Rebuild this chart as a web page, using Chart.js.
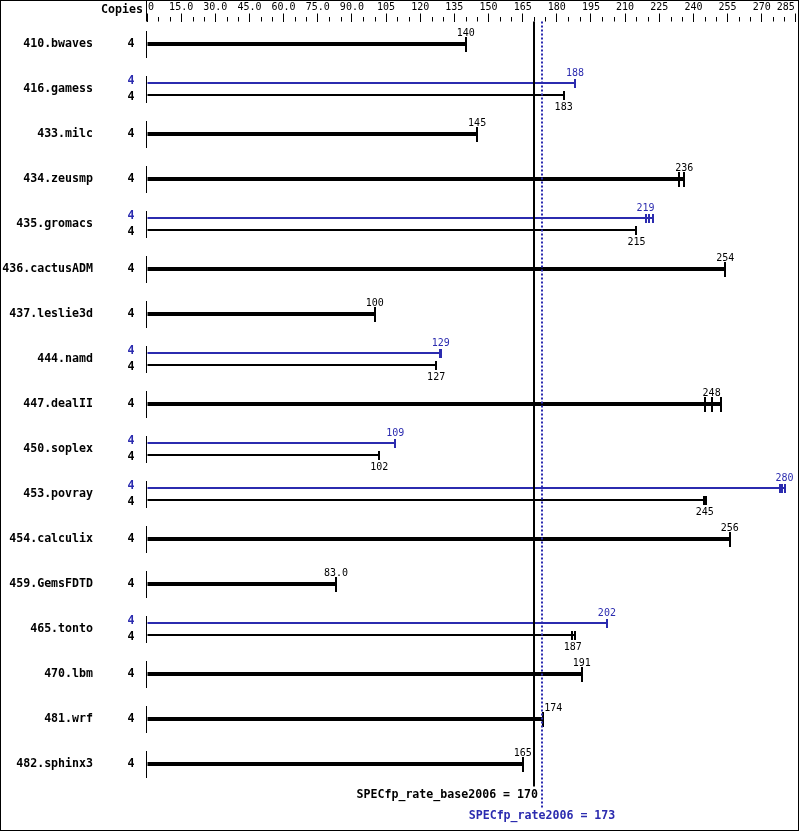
<!DOCTYPE html>
<html>
<head>
<meta charset="utf-8">
<script src="https://cdn.jsdelivr.net/npm/chart.js@4/dist/chart.umd.min.js"></script>
<style>
  html, body { margin: 0; padding: 0; background: #fff; }
  canvas { display: block; }
</style>
</head>
<body>
<canvas id="chart" width="799" height="831"></canvas>
<script>
// benchmarks, top to bottom
const benchmarks = ['410.bwaves', '416.gamess', '433.milc', '434.zeusmp', '435.gromacs', '436.cactusADM',
  '437.leslie3d', '444.namd', '447.dealII', '450.soplex', '453.povray', '454.calculix',
  '459.GemsFDTD', '465.tonto', '470.lbm', '481.wrf', '482.sphinx3'];
const copies = [4, 4, 4, 4, 4, 4, 4, 4, 4, 4, 4, 4, 4, 4, 4, 4, 4];

// base ratio (median run)
const baseValues = [140, 183, 145, 236, 215, 254, 100, 127, 248, 102, 245, 256, 83.0, 187, 191, 174, 165];
// peak ratio, null where no peak result is shown
const peakValues = [null, 188, null, null, 219, null, null, 129, null, 109, 280, null, null, 202, null, null, null];

// single run results (end ticks)
const baseRuns = [[140], [183], [145], [233.7, 236], [215], [254], [100], [127], [245.2, 248, 252], [102],
  [244.8, 245.5], [256], [83], [186.7, 188.2], [191], [174], [165]];
const peakRuns = [null, [188], null, null, [219, 220.5, 222.3], null, null, [128.8, 129.3], null, [109],
  [278, 279, 280.2], null, null, [202], null, null, null];

// top axis
const xTicks = [0, 15, 30, 45, 60, 75, 90, 105, 120, 135, 150, 165, 180, 195, 210, 225, 240, 255, 270, 285];
const xTickLabels = ['0', '15.0', '30.0', '45.0', '60.0', '75.0', '90.0', '105', '120', '135', '150', '165',
  '180', '195', '210', '225', '240', '255', '270', '285'];

const baseScore = 170;
const peakScore = 173;

const BLUE = '#2b2baf';
const BLACK = '#000';
const MONO = '"DejaVu Sans Mono", monospace';

const hasPeak = peakValues.map(v => v !== null);

function fmt(v) {
  return v < 100 ? v.toFixed(1) : String(Math.round(v));
}

/**
 * 端点刻度、数值、份数和总分线
 */
const specPlugin = {
  id: 'specDecor',
  afterDatasetsDraw(chart) {
    const { ctx, chartArea } = chart;
    const x = chart.scales.x;
    const x0 = Math.round(x.getPixelForValue(0));
    const basePx = Math.round(x.getPixelForValue(baseScore));
    const peakPx = Math.round(x.getPixelForValue(peakScore));
    const peakMeta = chart.getDatasetMeta(0);
    const baseMeta = chart.getDatasetMeta(1);
    const singleMeta = chart.getDatasetMeta(2);

    ctx.save();

    // 外框
    ctx.strokeStyle = BLACK;
    ctx.lineWidth = 1;
    ctx.strokeRect(0.5, 0.5, 798, 830);

    // 表头
    ctx.fillStyle = BLACK;
    ctx.font = 'bold 11.6px ' + MONO;
    ctx.textAlign = 'right';
    ctx.textBaseline = 'middle';
    ctx.fillText('Copies', 143, 10);

    // 顶部刻度文字
    ctx.font = '10px ' + MONO;
    xTicks.forEach((v, i) => {
      const px = x.getPixelForValue(v);
      if (i === 0) {
        ctx.textAlign = 'left';
        ctx.fillText(xTickLabels[i], px + 1, 7);
      } else if (i === xTicks.length - 1) {
        ctx.textAlign = 'right';
        ctx.fillText(xTickLabels[i], px - 1, 7);
      } else {
        ctx.textAlign = 'center';
        ctx.fillText(xTickLabels[i], px, 7);
      }
    });

    // 小刻度
    ctx.beginPath();
    for (let v = 5; v <= x.max; v += 5) {
      if (v % 15 === 0) continue;
      const px = Math.round(x.getPixelForValue(v)) + 0.5;
      ctx.moveTo(px, 17);
      ctx.lineTo(px, chartArea.top);
    }
    // 左侧竖线（表头部分）
    ctx.moveTo(x0 - 0.5, 0);
    ctx.lineTo(x0 - 0.5, chartArea.top);
    ctx.stroke();

    benchmarks.forEach((name, i) => {
      const rowY = chart.scales.y.getPixelForValue(i);

      // 每行起点竖线
      ctx.fillStyle = BLACK;
      ctx.fillRect(x0 - 1, Math.round(rowY - 13), 1, 27);

      const bars = [];
      if (hasPeak[i]) {
        bars.push({ y: peakMeta.data[i].y, v: peakValues[i], runs: peakRuns[i], color: BLUE, t: 2, h: 4, kind: 'peak' });
        bars.push({ y: baseMeta.data[i].y, v: baseValues[i], runs: baseRuns[i], color: BLACK, t: 2, h: 4, kind: 'base' });
      } else {
        bars.push({ y: singleMeta.data[i].y, v: baseValues[i], runs: baseRuns[i], color: BLACK, t: 4, h: 7, kind: 'single' });
      }

      bars.forEach(b => {
        const vPx = x.getPixelForValue(b.v);
        const maxRun = Math.max(...b.runs);
        ctx.fillStyle = b.color;
        if (maxRun > b.v) {
          const mPx = x.getPixelForValue(maxRun);
          ctx.fillRect(vPx, b.y - b.t / 2, mPx - vPx, b.t);
        }
        b.runs.forEach(r => {
          const rPx = Math.round(x.getPixelForValue(r));
          ctx.fillRect(rPx - 1, Math.round(b.y - b.h), 2, Math.round(2 * b.h) + 1);
        });

        // 份数
        ctx.font = 'bold 11.6px ' + MONO;
        ctx.textAlign = 'center';
        ctx.textBaseline = 'middle';
        const cy = b.kind === 'peak' ? b.y - 2 : (b.kind === 'base' ? b.y + 2 : b.y);
        ctx.fillText(String(copies[i]), 131, cy);

        // 数值
        ctx.font = '10px ' + MONO;
        const label = fmt(b.v);
        const w = ctx.measureText(label).width;
        let ly = b.y - 11;
        if (b.kind === 'peak') ly = b.y - 10;
        if (b.kind === 'base') ly = b.y + 12;
        let lx = vPx;
        ctx.textAlign = 'center';
        if (b.kind === 'single' && lx + w / 2 > basePx - 1 && lx - w / 2 < peakPx + 2) {
          ctx.textAlign = 'left';
          lx = vPx + 1;
        }
        ctx.fillText(label, lx, ly);
      });
    });

    // 总分线
    ctx.strokeStyle = BLACK;
    ctx.lineWidth = 2;
    ctx.beginPath();
    ctx.moveTo(basePx, chartArea.top);
    ctx.lineTo(basePx, chartArea.bottom);
    ctx.stroke();

    ctx.strokeStyle = BLUE;
    ctx.setLineDash([2, 2]);
    ctx.beginPath();
    ctx.moveTo(peakPx + 1, chartArea.top);
    ctx.lineTo(peakPx + 1, 808);
    ctx.stroke();
    ctx.setLineDash([]);

    ctx.font = 'bold 11.6px ' + MONO;
    ctx.textBaseline = 'middle';
    ctx.fillStyle = BLACK;
    ctx.textAlign = 'right';
    ctx.fillText('SPECfp_rate_base2006 = ' + baseScore, basePx + 4, 795);
    ctx.fillStyle = BLUE;
    ctx.textAlign = 'center';
    ctx.fillText('SPECfp_rate2006 = ' + peakScore, peakPx + 1, 816);

    ctx.restore();
  }
};

new Chart(document.getElementById('chart'), {
  type: 'bar',
  data: {
    labels: benchmarks,
    datasets: [
      { label: 'peak', data: peakValues, backgroundColor: BLUE, maxBarThickness: 2 },
      { label: 'base', data: baseValues.map((v, i) => hasPeak[i] ? v : null), backgroundColor: BLACK, maxBarThickness: 2 },
      { label: 'base single', data: baseValues.map((v, i) => hasPeak[i] ? null : v), backgroundColor: BLACK, maxBarThickness: 4 }
    ]
  },
  options: {
    indexAxis: 'y',
    responsive: false,
    animation: false,
    devicePixelRatio: 1,
    layout: { padding: { top: 0, left: 0, right: 2, bottom: 44.5 } },
    datasets: { bar: { skipNull: true, categoryPercentage: 24 / 45, barPercentage: 1 } },
    plugins: { legend: { display: false }, tooltip: { enabled: false } },
    scales: {
      x: {
        type: 'linear',
        position: 'top',
        min: 0,
        max: 285.5,
        afterBuildTicks: s => { s.ticks = xTicks.map(v => ({ value: v })); },
        afterFit: s => { s.height = 21.5; },
        ticks: { display: false },
        grid: { drawOnChartArea: false, drawTicks: true, tickLength: 8, tickColor: BLACK, tickWidth: 1 },
        border: { display: false }
      },
      y: {
        type: 'category',
        offset: true,
        // 标签右对齐在 x=93，轴宽固定到 147
        afterFit: s => { s.width = 147; s.paddingTop = 0; s.paddingBottom = 0; },
        grid: { display: false, drawTicks: false },
        border: { display: false },
        ticks: { color: BLACK, padding: 54, autoSkip: false, font: { family: MONO, size: 11.6, weight: 'bold' } }
      }
    }
  },
  plugins: [specPlugin]
});
</script>
</body>
</html>
